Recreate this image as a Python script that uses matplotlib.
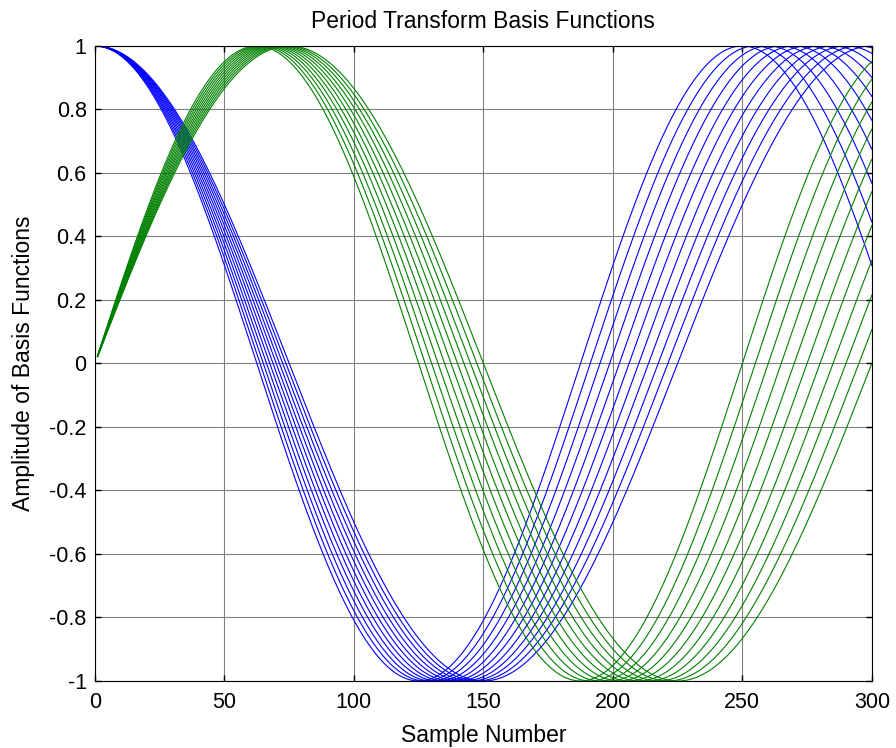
import numpy as np
import matplotlib
matplotlib.use("Agg")
import matplotlib.pyplot as plt

plt.rcParams['font.family'] = ['Liberation Sans', 'DejaVu Sans']

# Periods of the basis functions (samples)
periods = [250, 255, 260, 265, 270, 275, 280, 285, 290, 295, 300]
n_samples = 300
x_ticks = [0, 50, 100, 150, 200, 250, 300]
y_ticks = [-1, -0.8, -0.6, -0.4, -0.2, 0, 0.2, 0.4, 0.6, 0.8, 1]
y_ticklabels = ['-1', '-0.8', '-0.6', '-0.4', '-0.2', '0', '0.2', '0.4', '0.6', '0.8', '1']

n = np.arange(1, n_samples + 1)

fig = plt.figure(figsize=(8.96, 7.48), dpi=100)
ax = fig.add_axes([0.106, 0.0896, 0.867, 0.849])

for p in periods:
    ax.plot(n, np.cos(2 * np.pi * n / p), color=(0, 0, 1), lw=0.8)
for p in periods:
    ax.plot(n, np.sin(2 * np.pi * n / p), color=(0, 0.5, 0), lw=0.8)

ax.set_xlim(0, 300)
ax.set_ylim(-1, 1)
ax.set_xticks(x_ticks)
ax.set_yticks(y_ticks)
ax.set_yticklabels(y_ticklabels)
ax.grid(True, color='#808080', lw=0.8)
ax.set_axisbelow(True)
ax.tick_params(direction='in', length=4, width=1, top=True, right=True,
               labelsize=15.5, colors='black')
ax.tick_params(axis='x', pad=8)
ax.tick_params(axis='y', pad=6)
for s in ax.spines.values():
    s.set_color('black')
    s.set_linewidth(0.8)

ax.set_title('Period Transform Basis Functions', fontsize=16.5, pad=13)
ax.set_xlabel('Sample Number', fontsize=16.5, labelpad=8)
ax.set_ylabel('Amplitude of Basis Functions', fontsize=16.5, labelpad=10)

fig.savefig('out.png', dpi=100)
